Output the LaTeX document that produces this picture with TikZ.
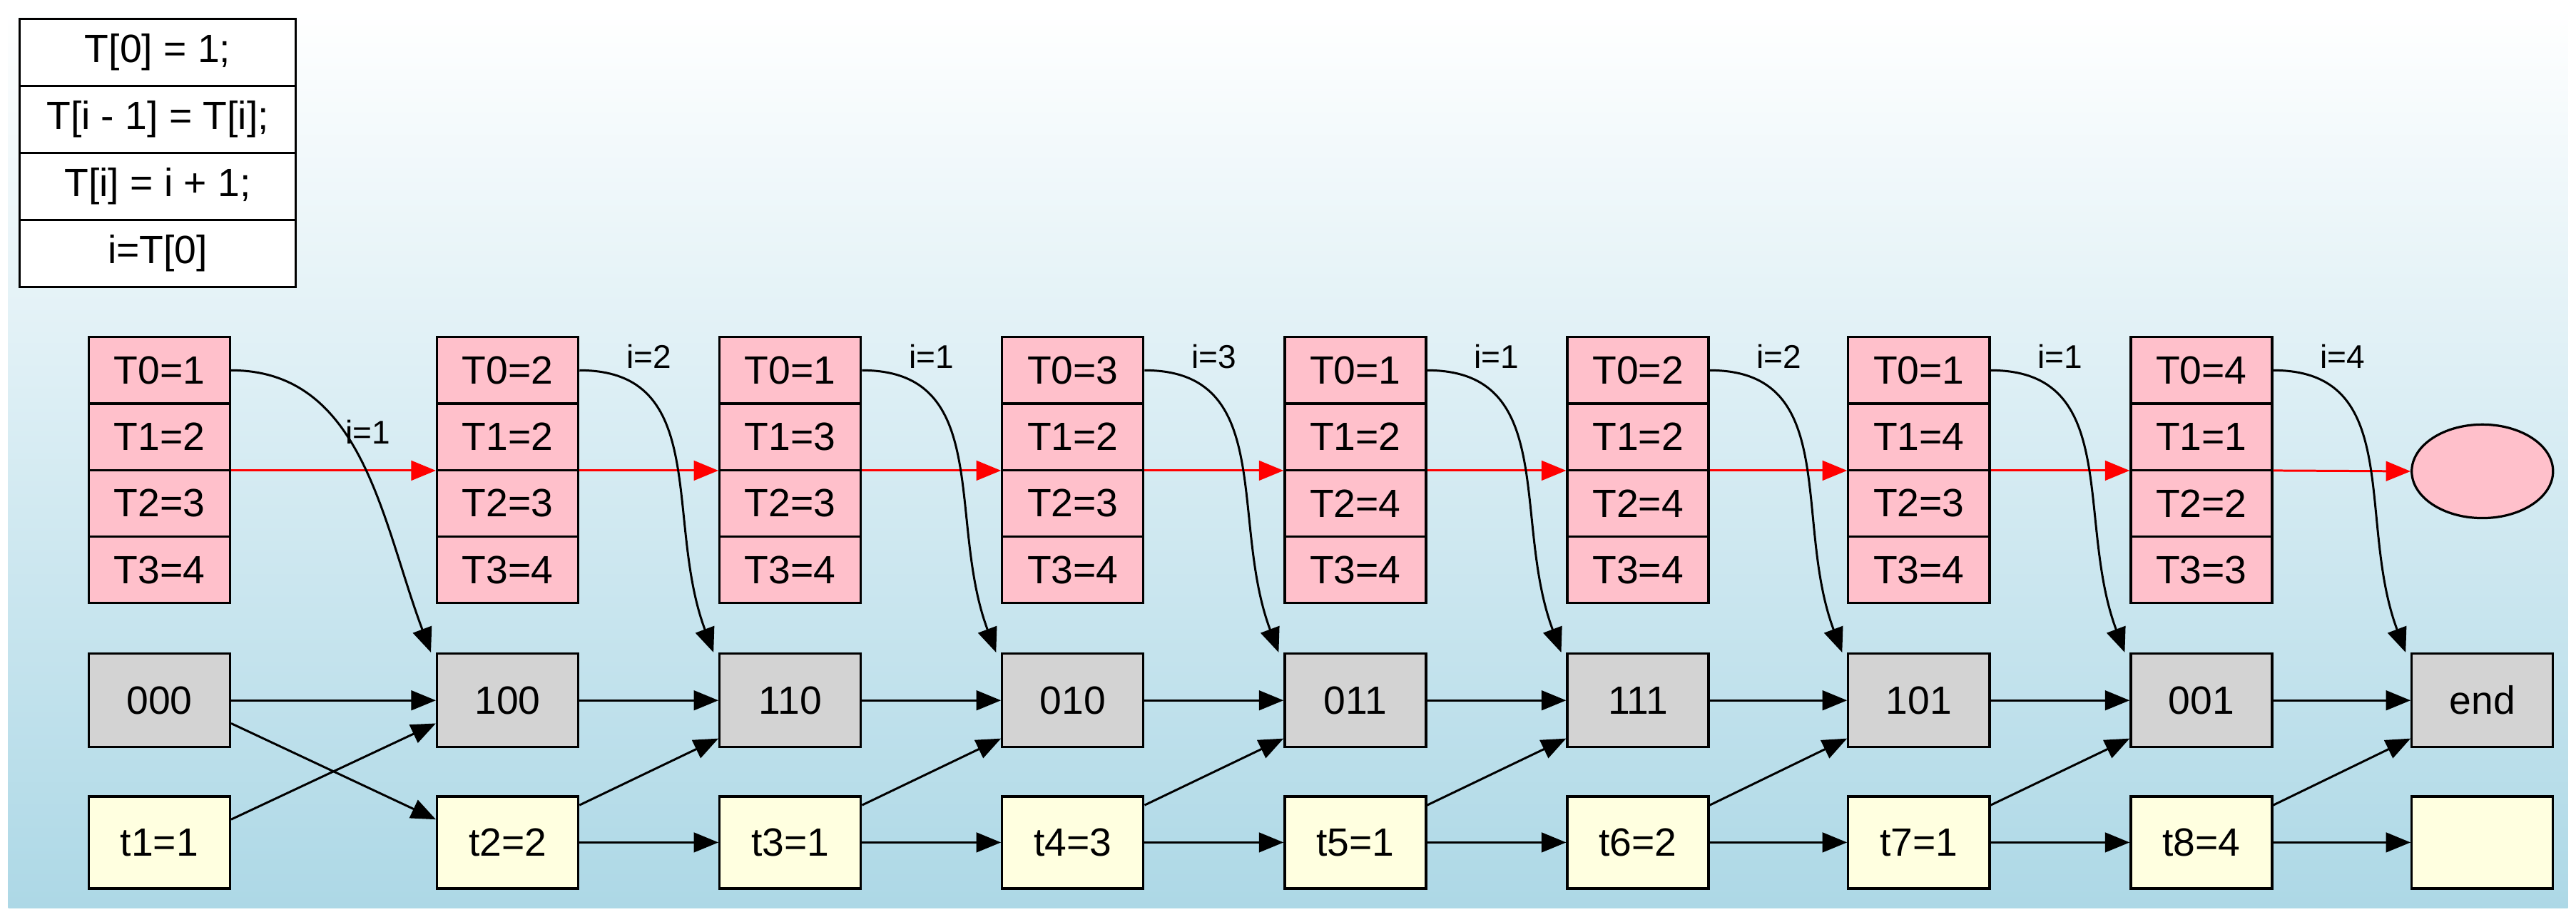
\documentclass[tikz,border=0pt]{standalone}
\usepackage{fontspec}
\setmainfont{Liberation Sans}
\usetikzlibrary{arrows.meta,shapes.geometric}
\definecolor{lightblue}{RGB}{173,216,230}
\definecolor{pinkcell}{RGB}{255,192,203}
\definecolor{graycell}{RGB}{211,211,211}
\definecolor{yellowcell}{RGB}{255,255,224}
\tikzset{
  cell/.style={draw, line width=1.4pt, minimum width=86pt, inner sep=0pt, font=\fontsize{24}{26}\selectfont},
  rec/.style={cell, fill=pinkcell, minimum height=40.5pt},
  state/.style={cell, fill=graycell, minimum height=57pt},
  tstep/.style={cell, fill=yellowcell, minimum height=56pt},
  legend/.style={cell, fill=white, minimum width=168pt, minimum height=40.8pt},
  link/.style={line width=1.3pt, -{Triangle[length=15pt,width=12pt]}},
  lbl/.style={font=\fontsize{20}{22}\selectfont}
}
\begin{document}
\begin{tikzpicture}[x=1pt,y=-1pt]
	\useasboundingbox (0,0) rectangle (1568,558);
	\shade [top color=white, bottom color=lightblue] (5,5) rectangle (1563,553);
	% legend
	\node [legend] (l1) at (96,32) {T[0] = 1;};
	\node [legend] (l2) at (96,72.8) {T[i - 1] = T[i];};
	\node [legend] (l3) at (96,113.6) {T[i] = i + 1;};
	\node [legend] (l4) at (96,154.4) {i=T[0]};
	% columns
	\foreach \k/\x/\a/\b/\c/\d/\s/\t in {
		1/97/1/2/3/4/000/t1=1, 2/309/2/2/3/4/100/t2=2, 3/481/1/3/3/4/110/t3=1,
		4/653/3/2/3/4/010/t4=3, 5/825/1/2/4/4/011/t5=1, 6/997/2/2/4/4/111/t6=2,
		7/1168/1/4/3/4/101/t7=1, 8/1340/4/1/2/3/001/t8=4}{
		\node [rec] (r\k a) at (\x,225.5) {T0=\a};
		\node [rec] (r\k b) at (\x,266) {T1=\b};
		\node [rec] (r\k c) at (\x,306.5) {T2=\c};
		\node [rec] (r\k d) at (\x,347) {T3=\d};
		\node [state] (s\k) at (\x,426.5) {\s};
		\node [tstep] (t\k) at (\x,513) {\t};
	}
	\node [draw, line width=1.4pt, fill=pinkcell, ellipse, minimum width=86pt, minimum height=57pt] (r9) at (1511,287) {};
	\node [state] (s9) at (1511,426.5) {end};
	\node [tstep] (t9) at (1511,513) {};
	% red record chain
	\foreach \k/\n in {1/2,2/3,3/4,4/5,5/6,6/7,7/8}
		\draw [link, red] ([yshift=-1pt]r\k c.north east) -- ([yshift=-1pt]r\n c.north west);
	\draw [link, red] ([yshift=-1pt]r8c.north east) -- (r9.west);
	% state chain and steps
	\foreach \k/\n in {1/2,2/3,3/4,4/5,5/6,6/7,7/8,8/9}{
		\draw [link] (s\k) -- (s\n);
		\draw [link] (r\k a.east) .. controls +(80,0) and +(-30,-80) .. ([xshift=-3pt]s\n.north west);
	}
	\draw [link] ([yshift=-14pt]s1.east) -- ([yshift=14pt]t2.west);
	\draw [link] ([yshift=14pt]t1.east) -- ([yshift=-14pt]s2.west);
	\foreach \k/\n in {2/3,3/4,4/5,5/6,6/7,7/8,8/9}{
		\draw [link] (t\k) -- (t\n);
		\draw [link] ([yshift=-6pt]t\k.north east) -- ([yshift=6pt]s\n.south west);
	}
	% i labels
	\node [lbl] (i1) at (224,263) {i=1};
	\foreach \k/\x/\v in {2/395/2, 3/567/1, 4/739/3, 5/911/1, 6/1083/2, 7/1254/1, 8/1426/4}
		\node [lbl] (i\k) at (\x,217) {i=\v};
\end{tikzpicture}
\end{document}
